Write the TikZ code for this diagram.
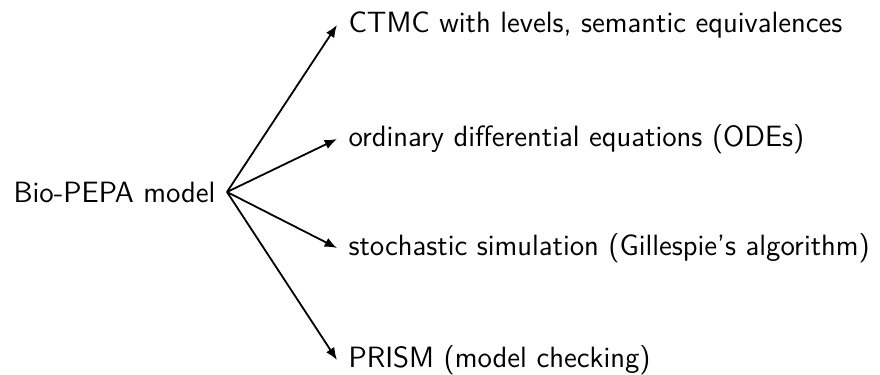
\documentclass[tikz,border=0pt]{standalone}
\usetikzlibrary{arrows.meta}
\begin{document}
\begin{tikzpicture}[x=0.39pt,y=-0.39pt,
  lbl/.style={font=\sffamily\fontsize{11.45}{13.7}\selectfont, inner sep=4.3pt},
  conn/.style={-{Latex[length=4.8pt,width=3.8pt]}, line width=0.7pt}]
\useasboundingbox (0,0) rectangle (880,375);
\node[lbl, anchor=east] (bio) at (227,192) {Bio-PEPA model};
\node[lbl, anchor=west] (ctmc) at (337,25) {CTMC with levels, semantic equivalences};
\node[lbl, anchor=west] (ode) at (337,139) {ordinary differential equations (ODEs)};
\node[lbl, anchor=west] (ssa) at (337,248) {stochastic simulation (Gillespie's algorithm)};
\node[lbl, anchor=west] (prism) at (337,360) {PRISM (model checking)};
\foreach \t in {ctmc,ode,ssa,prism} \draw[conn] (bio.east) -- (\t.west);
\end{tikzpicture}
\end{document}
